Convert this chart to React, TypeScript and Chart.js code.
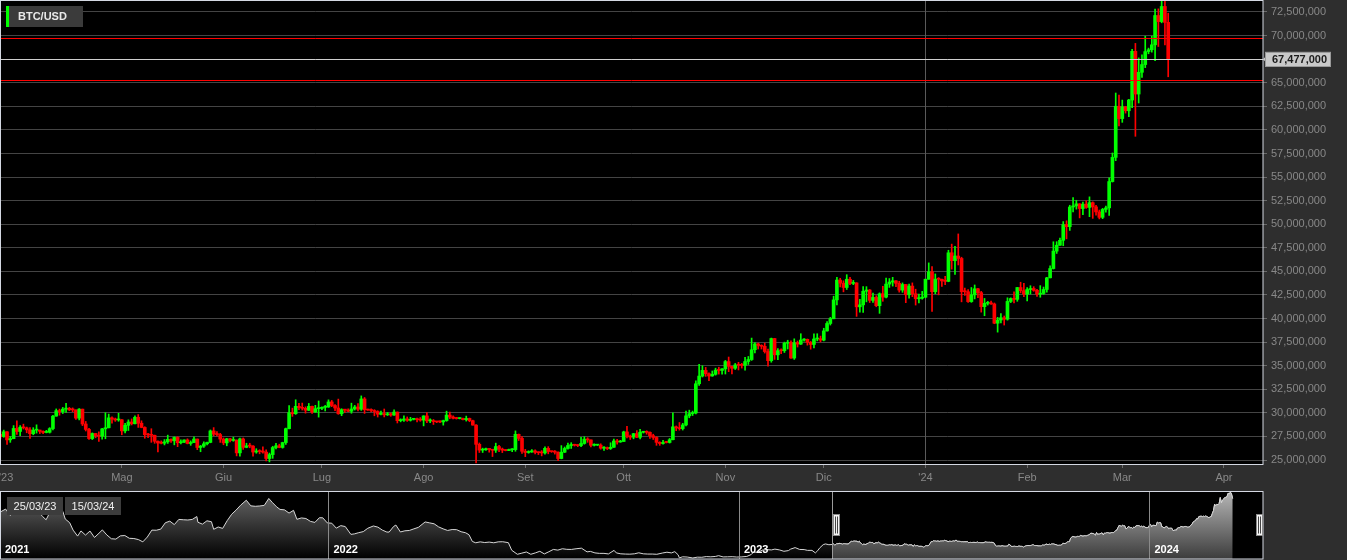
import { useEffect, useRef } from 'react';
import { Chart, registerables } from 'chart.js';

Chart.register(...registerables);

const FONT = '"Liberation Sans", Arial, Helvetica, sans-serif';
const SYMBOL = 'BTC/USD';
const START_DATE = '2023-03-25';
const PRICE_UNIT = 1000;

type OHLC = [number, number, number, number];

// Daily candles [open, high, low, close] (USD, chart shows ×1000)
const MAR_2023: OHLC[] = [
  [27716, 28025, 27302, 27494], [27494, 28175, 27412, 27994], [27994, 28004, 26650, 27139],
  [27139, 27500, 26876, 27268], [27268, 28650, 27254, 28348], [28348, 29159, 27720, 28033],
  [28033, 28640, 27583, 28478],
];
const APR_2023: OHLC[] = [
  [28478, 28805, 28288, 28411], [28411, 28497, 27889, 28199], [28199, 28448, 27296, 27790],
  [27790, 28431, 27679, 28168], [28168, 28733, 27856, 28177], [28177, 28177, 27807, 28044],
  [28044, 28100, 27796, 27925], [27925, 28150, 27880, 27947], [27947, 28433, 27860, 28333],
  [28333, 29737, 28206, 29653], [29653, 30419, 29646, 30235], [30235, 30404, 29753, 30139],
  [30139, 30580, 29931, 30399], [30399, 31000, 30040, 30485], [30485, 30581, 30238, 30318],
  [30318, 30529, 30130, 30315], [30315, 30315, 29305, 29445], [29445, 30455, 29254, 30397],
  [30397, 30399, 28648, 28822], [28822, 29089, 28079, 28245], [28245, 28369, 27181, 27276],
  [27276, 27876, 27172, 27817], [27817, 27820, 27362, 27591], [27591, 28001, 26970, 27525],
  [27525, 28371, 27206, 28307], [28307, 30020, 27255, 28423], [28423, 29873, 28400, 29473],
  [29473, 29573, 28904, 29340], [29340, 29450, 29100, 29248], [29248, 29952, 29112, 29268],
];
const MAY_2023: OHLC[] = [
  [29268, 29300, 27680, 28091], [28091, 28880, 27872, 28680], [28680, 29260, 28130, 29031],
  [29031, 29360, 28720, 28847], [28847, 29680, 28830, 29534], [29534, 29820, 28460, 28904],
  [28904, 29160, 28420, 28454], [28454, 28530, 27310, 27694], [27694, 27820, 27360, 27658],
  [27658, 28320, 26880, 27621], [27621, 27650, 26770, 26988], [26988, 27030, 25870, 26804],
  [26804, 27030, 26710, 26784], [26784, 27170, 26600, 26930], [26930, 27640, 26760, 27192],
  [27192, 27240, 26880, 27037], [27037, 27460, 26610, 27398], [27398, 27470, 26420, 26833],
  [26833, 27140, 26700, 26890], [26890, 27150, 26850, 27129], [27129, 27250, 26710, 26754],
  [26754, 27030, 26560, 26851], [26851, 27470, 26840, 27226], [27226, 27230, 26100, 26334],
  [26334, 26550, 25880, 26476], [26476, 26920, 26350, 26719], [26719, 26900, 26600, 26868],
  [26868, 28190, 26830, 28085], [28085, 28440, 27560, 27745], [27745, 28020, 27570, 27702],
  [27702, 27830, 26870, 27220],
];
const JUN_2023: OHLC[] = [
  [27220, 27340, 26620, 26819], [26819, 27300, 26510, 27249], [27249, 27310, 26930, 27075],
  [27075, 27430, 26990, 27119], [27119, 27130, 25440, 25760], [25760, 27330, 25400, 27238],
  [27238, 27340, 26130, 26345], [26345, 26780, 26300, 26508], [26508, 26780, 26300, 26480],
  [26480, 26530, 25400, 25851], [25851, 26200, 25720, 25940], [25940, 26090, 25660, 25903],
  [25903, 26400, 25740, 25842], [25842, 26070, 24900, 25162], [25162, 25740, 24800, 25575],
  [25575, 26460, 25180, 26327], [26327, 26770, 26180, 26510], [26510, 26680, 26300, 26336],
  [26336, 26890, 26260, 26851], [26851, 28390, 26660, 28327], [28327, 30770, 28300, 30027],
  [30027, 30500, 29630, 29912], [29912, 31390, 29840, 30695], [30695, 31000, 30340, 30548],
  [30548, 31040, 30300, 30480], [30480, 30640, 29970, 30272], [30272, 31000, 30240, 30689],
  [30689, 30710, 29930, 30086], [30086, 30800, 30050, 30446], [30446, 31260, 29550, 30477],
];
const JUL_2023: OHLC[] = [
  [30477, 30650, 30330, 30590], [30590, 30790, 30200, 30620], [30620, 31380, 30580, 31156],
  [31156, 31320, 30660, 30777], [30777, 30880, 30230, 30514], [30514, 31460, 29850, 29909],
  [29909, 30440, 29700, 30346], [30346, 30380, 30040, 30292], [30292, 30420, 30130, 30171],
  [30171, 31030, 29960, 30414], [30414, 30790, 30300, 30620], [30620, 30980, 30220, 30391],
  [30391, 31800, 30260, 31476], [31476, 31630, 29940, 30334], [30334, 30410, 30260, 30295],
  [30295, 30440, 30090, 30249], [30249, 30340, 29690, 30145], [30145, 30230, 29560, 29856],
  [29856, 30190, 29770, 29913], [29913, 30410, 29570, 29793], [29793, 30050, 29720, 29908],
  [29908, 29990, 29640, 29771], [29771, 30330, 29740, 30084], [30084, 30100, 28930, 29176],
  [29176, 29370, 29050, 29227], [29227, 29680, 29100, 29354], [29354, 29570, 29100, 29210],
  [29210, 29530, 29130, 29319], [29319, 29400, 29250, 29357], [29357, 29450, 29050, 29275],
  [29275, 29500, 29110, 29230],
];
const AUG_2023: OHLC[] = [
  [29230, 29700, 28620, 29675], [29675, 30040, 28970, 29151], [29151, 29380, 28960, 29178],
  [29178, 29300, 28770, 29074], [29074, 29110, 28960, 29042], [29042, 29160, 28970, 29041],
  [29041, 29230, 28700, 29180], [29180, 30180, 29110, 29765], [29765, 30090, 29380, 29561],
  [29561, 29680, 29360, 29429], [29429, 29530, 29340, 29397], [29397, 29460, 29360, 29415],
  [29415, 29450, 29260, 29283], [29283, 29660, 29130, 29408], [29408, 29450, 29060, 29170],
  [29170, 29230, 28700, 28701], [28701, 28770, 24700, 26664], [26664, 26810, 25800, 26049],
  [26049, 26260, 25800, 26096], [26096, 26270, 26010, 26189], [26189, 26220, 25830, 26124],
  [26124, 26130, 25370, 26040], [26040, 26790, 25800, 26431], [26431, 26550, 25900, 26163],
  [26163, 26270, 25790, 26049], [26049, 26100, 25970, 26008], [26008, 26170, 25980, 26089],
  [26089, 26220, 25880, 26106], [26106, 28090, 25930, 27727], [27727, 27760, 27070, 27297],
  [27297, 27490, 25700, 25931],
];
const SEP_2023: OHLC[] = [
  [25931, 26130, 25360, 25800], [25800, 25980, 25720, 25868], [25868, 26110, 25810, 25969],
  [25969, 26090, 25660, 25812], [25812, 25860, 25580, 25779], [25779, 26000, 25440, 25753],
  [25753, 26400, 25630, 26240], [26240, 26420, 25660, 25906], [25906, 25930, 25810, 25895],
  [25895, 26010, 25630, 25832], [25832, 25870, 24930, 25162], [25162, 26530, 25130, 25833],
  [25833, 26380, 25790, 26228], [26228, 26800, 26150, 26539], [26539, 26840, 26230, 26608],
  [26608, 26670, 26480, 26568], [26568, 26620, 26420, 26534], [26534, 27410, 26420, 26754],
  [26754, 27470, 26680, 27211], [27211, 27370, 26880, 27132], [27132, 27150, 26400, 26567],
  [26567, 26720, 26490, 26579], [26579, 26620, 26520, 26579], [26579, 26720, 26150, 26256],
  [26256, 26420, 26010, 26298], [26298, 26380, 26110, 26217], [26217, 26830, 26120, 26352],
  [26352, 27230, 26330, 27021], [27021, 27200, 26680, 26911], [26911, 27090, 26880, 26967],
];
const OCT_2023: OHLC[] = [
  [26967, 28060, 26970, 27983], [27983, 28580, 27350, 27530], [27530, 27650, 27180, 27429],
  [27429, 27830, 27250, 27799], [27799, 28120, 27370, 27415], [27415, 28250, 27250, 27946],
  [27946, 28030, 27860, 27968], [27968, 28100, 27740, 27935], [27935, 27990, 27300, 27583],
  [27583, 27740, 27180, 27391], [27391, 27470, 26560, 26873], [26873, 26940, 26560, 26756],
  [26756, 27090, 26690, 26862], [26862, 26980, 26810, 26861], [26861, 27290, 26800, 27160],
  [27160, 30000, 27120, 28519], [28519, 28610, 28110, 28415], [28415, 28980, 28170, 28329],
  [28329, 28890, 28180, 28720], [28720, 30200, 28620, 29683], [29683, 30290, 29480, 29918],
  [29918, 30190, 29720, 29993], [29993, 33400, 29900, 33087], [33087, 35150, 32900, 33901],
  [33901, 35000, 33800, 34502], [34502, 34820, 33870, 34157], [34157, 34240, 33410, 33909],
  [33909, 34440, 33880, 34090], [34090, 34740, 34000, 34538], [34538, 34840, 34110, 34502],
  [34502, 34700, 34090, 34667],
];
const NOV_2023: OHLC[] = [
  [34667, 35560, 34120, 35437], [35437, 35920, 34370, 34938], [34938, 34940, 34120, 34732],
  [34732, 35240, 34600, 35082], [35082, 35360, 34550, 35050], [35050, 35250, 34750, 35038],
  [35038, 35890, 34540, 35443], [35443, 35980, 35130, 35655], [35655, 37930, 35560, 36694],
  [36694, 37450, 36360, 37313], [37313, 37400, 36770, 37138], [37138, 37220, 36770, 37054],
  [37054, 37400, 36340, 36502], [36502, 36750, 34950, 35537], [35537, 37930, 35370, 37880],
  [37880, 37900, 35670, 36154], [36154, 36820, 35630, 36596], [36596, 36790, 36280, 36585],
  [36585, 37500, 36400, 37387], [37387, 37700, 36770, 37476], [37476, 37640, 35780, 35813],
  [35813, 37850, 35670, 37432], [37432, 37620, 36980, 37289], [37289, 38390, 37250, 37720],
  [37720, 37880, 37600, 37796], [37796, 37830, 37180, 37479], [37479, 37570, 36750, 37254],
  [37254, 38370, 36880, 37831], [37831, 38390, 37640, 37858], [37858, 38140, 37520, 37712],
];
const DEC_2023: OHLC[] = [
  [37712, 38970, 37630, 38688], [38688, 39680, 38650, 39476], [39476, 40130, 39310, 39978],
  [39978, 42370, 39970, 41980], [41980, 44370, 41450, 44080], [44080, 44270, 43350, 43746],
  [43746, 44000, 42830, 43293], [43293, 44650, 43080, 44166], [44166, 44380, 43600, 43726],
  [43726, 44040, 43590, 43779], [43779, 43800, 40230, 41243], [41243, 42050, 40680, 41450],
  [41450, 43400, 40640, 42890], [42890, 43380, 41770, 43023], [43023, 43080, 41700, 41929],
  [41929, 42700, 41720, 42240], [42240, 42420, 41250, 41364], [41364, 42720, 40550, 42623],
  [42623, 43420, 41830, 42270], [42270, 44280, 42190, 43652], [43652, 44240, 43300, 43869],
  [43869, 44370, 43440, 43997], [43997, 44020, 43390, 43740], [43740, 43950, 42800, 43016],
  [43016, 43780, 42780, 43613], [43613, 43600, 41680, 42521], [42521, 43650, 42170, 43442],
  [43442, 43780, 42320, 42627], [42627, 43110, 41430, 42099], [42099, 42600, 41650, 42156],
  [42156, 42880, 42050, 42265],
];
const JAN_2024: OHLC[] = [
  [42265, 44180, 42200, 44168], [44168, 45900, 44160, 44958], [44958, 45500, 40750, 42848],
  [42848, 44730, 42630, 44180], [44180, 44340, 42510, 44162], [44162, 44190, 43400, 43989],
  [43989, 44480, 43600, 43943], [43943, 47240, 43900, 46970], [46970, 47890, 45240, 46139],
  [46139, 47650, 44670, 46627], [46627, 48970, 45680, 46368], [46368, 46500, 41770, 42854],
  [42854, 43240, 42450, 42842], [42842, 43060, 41720, 41797], [41797, 43290, 41720, 42511],
  [42511, 43560, 42080, 43155], [43155, 43200, 42200, 42742], [42742, 42880, 40680, 41262],
  [41262, 42130, 40300, 41618], [41618, 41820, 41430, 41665], [41665, 41860, 41500, 41546],
  [41546, 41650, 39450, 39507], [39507, 40130, 38560, 39845], [39845, 40520, 39530, 40077],
  [40077, 40270, 39310, 39933], [39933, 42200, 39830, 41816], [41816, 42190, 41690, 42120],
  [42120, 42820, 41650, 42035], [42035, 43300, 41830, 43288], [43288, 43850, 42720, 42952],
  [42952, 43740, 42320, 42582],
];
const FEB_2024: OHLC[] = [
  [42582, 43290, 41880, 43075], [43075, 43480, 42600, 43185], [43185, 43380, 42890, 42992],
  [42992, 43100, 42350, 42583], [42583, 43490, 42260, 42658], [42658, 43340, 42560, 43084],
  [43084, 44370, 42790, 44318], [44318, 45580, 44340, 45301], [45301, 48140, 45250, 47147],
  [47147, 48150, 46900, 47771], [47771, 48530, 47740, 48293], [48293, 50280, 47720, 49958],
  [49958, 50360, 48450, 49742], [49742, 52010, 49340, 51826], [51826, 52820, 51310, 51938],
  [51938, 52540, 51600, 52160], [52160, 52170, 50670, 51663], [51663, 52360, 51020, 52122],
  [52122, 52490, 51680, 51779], [51779, 52900, 50800, 52284], [52284, 52370, 50620, 51839],
  [51839, 52010, 50950, 51304], [51304, 51500, 50560, 50731], [50731, 51680, 50590, 51571],
  [51571, 51930, 51290, 51733], [51733, 54910, 50920, 54522], [54522, 57550, 54470, 57085],
  [57085, 63910, 56740, 62504], [62504, 63680, 60430, 61198],
];
const MAR_2024: OHLC[] = [
  [61198, 63160, 60800, 62440], [62440, 62480, 61780, 62029], [62029, 63240, 61390, 63167],
  [63167, 68540, 62360, 68331], [68331, 69170, 59320, 63801], [63801, 67630, 62850, 66106],
  [66106, 67970, 65560, 66925], [66925, 69930, 66600, 68300], [68300, 68670, 68070, 68498],
  [68498, 69940, 68240, 69019], [69019, 72800, 67330, 72123], [72123, 72830, 68840, 71481],
  [71481, 73650, 71350, 73083], [73083, 73780, 69000, 71397], [71397, 72370, 65630, 67477],
];

const CANDLE_MONTHS: OHLC[][] = [
  MAR_2023, APR_2023, MAY_2023, JUN_2023, JUL_2023, AUG_2023, SEP_2023,
  OCT_2023, NOV_2023, DEC_2023, JAN_2024, FEB_2024, MAR_2024,
];

// Axis labels
const X_TICK_DATES = [
  '2023-05-01', '2023-06-01', '2023-07-01', '2023-08-01', '2023-09-01', '2023-10-01',
  '2023-11-01', '2023-12-01', '2024-01-01', '2024-02-01', '2024-03-01', '2024-04-01',
];
const X_TICK_LABELS = ['Mag', 'Giu', 'Lug', 'Ago', 'Set', 'Ott', 'Nov', 'Dic', "'24", 'Feb', 'Mar', 'Apr'];
const FIRST_PARTIAL_LABEL = "'23";
const YEAR_LINE_DATE = '2024-01-01';
const Y_TICKS = [
  25000000, 27500000, 30000000, 32500000, 35000000, 37500000, 40000000, 42500000,
  45000000, 47500000, 50000000, 52500000, 55000000, 57500000, 60000000, 62500000,
  65000000, 67500000, 70000000, 72500000,
];
const Y_MIN = 24580000;
const Y_MAX = 73770000;
const X_MIN = -0.14;
const X_MAX = 384.9;
const LAST_PRICE = 67477000;
const LEVEL_LINES = [69740000, 65240000];

// Navigator history (USD close) before the main range
const NAV_HISTORY: [string, number][] = [
  ['2021-03-15', 55600], ['2021-03-20', 58300], ['2021-03-24', 52800], ['2021-03-28', 55800],
  ['2021-04-01', 59000], ['2021-04-05', 58700], ['2021-04-10', 60000], ['2021-04-14', 63500],
  ['2021-04-18', 56200], ['2021-04-22', 51700], ['2021-04-25', 49000], ['2021-04-28', 54800],
  ['2021-05-03', 57200], ['2021-05-08', 58800], ['2021-05-10', 55900], ['2021-05-12', 49700],
  ['2021-05-16', 46400], ['2021-05-19', 40000], ['2021-05-23', 34800], ['2021-05-26', 39300],
  ['2021-05-30', 35700], ['2021-06-03', 39200], ['2021-06-07', 33600], ['2021-06-11', 37300],
  ['2021-06-14', 40200], ['2021-06-18', 35800], ['2021-06-22', 32500], ['2021-06-26', 32200],
  ['2021-06-30', 35000], ['2021-07-04', 35300], ['2021-07-08', 32900], ['2021-07-12', 32700],
  ['2021-07-16', 31800], ['2021-07-20', 29800], ['2021-07-24', 34000], ['2021-07-28', 40000],
  ['2021-08-01', 39900], ['2021-08-05', 40900], ['2021-08-09', 46400], ['2021-08-13', 47800],
  ['2021-08-17', 44800], ['2021-08-21', 49300], ['2021-08-25', 49000], ['2021-08-29', 48800],
  ['2021-09-02', 49300], ['2021-09-06', 51800], ['2021-09-07', 46800], ['2021-09-11', 45200],
  ['2021-09-15', 48100], ['2021-09-19', 47300], ['2021-09-21', 40700], ['2021-09-25', 42700],
  ['2021-09-29', 41500], ['2021-10-03', 48200], ['2021-10-07', 53800], ['2021-10-11', 57500],
  ['2021-10-15', 61700], ['2021-10-20', 66000], ['2021-10-24', 61100], ['2021-10-28', 60700],
  ['2021-11-01', 61000], ['2021-11-05', 61500], ['2021-11-09', 67500], ['2021-11-12', 64200],
  ['2021-11-16', 60200], ['2021-11-19', 58000], ['2021-11-23', 57600], ['2021-11-27', 54800],
  ['2021-12-01', 57200], ['2021-12-04', 49400], ['2021-12-08', 50600], ['2021-12-12', 50100],
  ['2021-12-16', 47600], ['2021-12-20', 46700], ['2021-12-24', 50800], ['2021-12-27', 50700],
  ['2021-12-31', 46300], ['2022-01-04', 46000], ['2022-01-08', 41700], ['2022-01-12', 43900],
  ['2022-01-16', 43100], ['2022-01-21', 36300], ['2022-01-24', 36700], ['2022-01-28', 37800],
  ['2022-02-01', 38700], ['2022-02-05', 41600], ['2022-02-10', 43600], ['2022-02-14', 42600],
  ['2022-02-18', 40000], ['2022-02-22', 38300], ['2022-02-24', 38300], ['2022-02-28', 43200],
  ['2022-03-02', 44400], ['2022-03-06', 38400], ['2022-03-10', 39400], ['2022-03-14', 39700],
  ['2022-03-18', 41100], ['2022-03-22', 42400], ['2022-03-28', 47100], ['2022-04-01', 46300],
  ['2022-04-05', 45500], ['2022-04-09', 42800], ['2022-04-13', 41100], ['2022-04-17', 39700],
  ['2022-04-21', 40500], ['2022-04-25', 40400], ['2022-04-29', 38600], ['2022-05-03', 37700],
  ['2022-05-06', 36000], ['2022-05-09', 30100], ['2022-05-12', 29000], ['2022-05-16', 29800],
  ['2022-05-20', 29200], ['2022-05-24', 29600], ['2022-05-28', 29000], ['2022-06-01', 29800],
  ['2022-06-05', 29900], ['2022-06-10', 29100], ['2022-06-13', 22500], ['2022-06-18', 19000],
  ['2022-06-22', 20000], ['2022-06-26', 21000], ['2022-06-30', 19000], ['2022-07-04', 20200],
  ['2022-07-08', 21600], ['2022-07-12', 19300], ['2022-07-16', 21200], ['2022-07-20', 23200],
  ['2022-07-24', 22600], ['2022-07-28', 23800], ['2022-08-01', 23300], ['2022-08-05', 23200],
  ['2022-08-10', 23900], ['2022-08-14', 24300], ['2022-08-19', 21100], ['2022-08-22', 21500],
  ['2022-08-26', 20200], ['2022-08-30', 19800], ['2022-09-03', 19800], ['2022-09-07', 19300],
  ['2022-09-12', 22400], ['2022-09-14', 20200], ['2022-09-18', 19400], ['2022-09-22', 19200],
  ['2022-09-26', 19100], ['2022-09-30', 19400], ['2022-10-04', 20300], ['2022-10-08', 19400],
  ['2022-10-12', 19200], ['2022-10-16', 19200], ['2022-10-20', 19000], ['2022-10-25', 20100],
  ['2022-10-29', 20800], ['2022-11-02', 20200], ['2022-11-05', 21300], ['2022-11-08', 18500],
  ['2022-11-09', 15900], ['2022-11-12', 16800], ['2022-11-16', 16600], ['2022-11-21', 15800],
  ['2022-11-25', 16500], ['2022-11-29', 16400], ['2022-12-03', 17000], ['2022-12-07', 16800],
  ['2022-12-11', 17100], ['2022-12-14', 17800], ['2022-12-18', 16700], ['2022-12-22', 16800],
  ['2022-12-26', 16900], ['2022-12-30', 16600], ['2023-01-03', 16700], ['2023-01-08', 17100],
  ['2023-01-12', 18800], ['2023-01-14', 20900], ['2023-01-18', 20800], ['2023-01-22', 22700],
  ['2023-01-26', 23000], ['2023-01-30', 22800], ['2023-02-02', 23500], ['2023-02-06', 22800],
  ['2023-02-10', 21600], ['2023-02-14', 22200], ['2023-02-16', 23500], ['2023-02-20', 24800],
  ['2023-02-24', 23200], ['2023-02-28', 23100], ['2023-03-03', 22400], ['2023-03-07', 22400],
  ['2023-03-10', 20200], ['2023-03-12', 22100], ['2023-03-14', 24700], ['2023-03-17', 27400],
  ['2023-03-19', 28000], ['2023-03-22', 27300],
];
const NAV_YEARS = ['2021', '2022', '2023', '2024'];
const NAV_RANGE_START = '2021-03-15';
const NAV_RANGE_END = '2024-04-11';
const NAV_MIN = 14900;
const NAV_MAX = 74000;

// ---------- helpers ----------
const dayNum = (s: string) => {
  const [y, m, d] = s.split('-').map(Number);
  return Date.UTC(y, m - 1, d) / 86400000;
};
const fmtDate = (day: number) => {
  const dt = new Date(day * 86400000);
  const p = (n: number) => String(n).padStart(2, '0');
  return `${p(dt.getUTCDate())}/${p(dt.getUTCMonth() + 1)}/${String(dt.getUTCFullYear()).slice(2)}`;
};
const fmtNum = (v: number) => Math.round(v).toLocaleString('en-US');

const CANDLES: OHLC[] = CANDLE_MONTHS.flat();
const START_DAY = dayNum(START_DATE);
const idxOf = (s: string) => dayNum(s) - START_DAY;

const BULL = '#00ff00';
const BEAR = '#ff0000';
const BG = '#2e2e2e';
const GRID = '#444444';
const LABEL = '#888888';
const BORDER = '#d4d8e2';

const mainDecor = {
  id: 'mainDecor',
  beforeDraw(chart: any) {
    const { ctx, chartArea: a } = chart;
    ctx.save();
    ctx.fillStyle = '#000';
    ctx.fillRect(a.left, a.top, a.right - a.left, a.bottom - a.top);
    ctx.restore();
  },
  beforeDatasetsDraw(chart: any) {
    const { ctx, chartArea: a, scales } = chart;
    const x = Math.round(scales.x.getPixelForValue(idxOf(YEAR_LINE_DATE))) + 0.5;
    ctx.save();
    ctx.strokeStyle = '#5a5a5a';
    ctx.lineWidth = 1;
    ctx.beginPath();
    ctx.moveTo(x, a.top);
    ctx.lineTo(x, a.bottom);
    ctx.stroke();
    ctx.restore();
  },
  afterDatasetsDraw(chart: any) {
    const { ctx, chartArea: a, scales } = chart;
    ctx.save();
    ctx.lineWidth = 1;
    ctx.strokeStyle = '#ff0000';
    LEVEL_LINES.forEach((v) => {
      const y = Math.round(scales.y.getPixelForValue(v)) + 0.5;
      ctx.beginPath();
      ctx.moveTo(a.left, y);
      ctx.lineTo(a.right, y);
      ctx.stroke();
    });
    const py = Math.round(scales.y.getPixelForValue(LAST_PRICE)) + 0.5;
    ctx.strokeStyle = '#cfcfcf';
    ctx.beginPath();
    ctx.moveTo(a.left, py);
    ctx.lineTo(a.right, py);
    ctx.stroke();
    ctx.restore();
  },
  afterDraw(chart: any) {
    const { ctx, chartArea: a, scales } = chart;
    ctx.save();
    // plot border
    ctx.strokeStyle = BORDER;
    ctx.lineWidth = 1;
    ctx.strokeRect(a.left + 0.5, a.top + 0.5, a.right - a.left - 0.5, a.bottom - a.top);
    // legend
    ctx.fillStyle = '#3b3b3b';
    ctx.fillRect(6, 6, 77, 21);
    ctx.fillStyle = BULL;
    ctx.fillRect(6, 6, 3, 21);
    ctx.fillStyle = '#e8e8e8';
    ctx.font = `bold 11px ${FONT}`;
    ctx.textAlign = 'left';
    ctx.textBaseline = 'middle';
    ctx.fillText(SYMBOL, 18, 17);
    // last price label
    const py = scales.y.getPixelForValue(LAST_PRICE);
    ctx.fillStyle = '#c9c9c9';
    ctx.beginPath();
    ctx.moveTo(a.right, py);
    ctx.lineTo(a.right + 3, py - 3);
    ctx.lineTo(a.right + 3, py + 3);
    ctx.closePath();
    ctx.fill();
    ctx.fillRect(a.right + 2, py - 7.5, 66, 15);
    ctx.strokeStyle = '#9a9a9a';
    ctx.strokeRect(a.right + 2.5, Math.round(py - 7.5) + 0.5, 65, 14);
    ctx.fillStyle = '#1c1c1c';
    ctx.fillText(fmtNum(LAST_PRICE), a.right + 9, py + 0.5);
    // partially visible first x label
    ctx.fillStyle = LABEL;
    ctx.font = `11px ${FONT}`;
    ctx.fillText(FIRST_PARTIAL_LABEL, -1, a.bottom + 13.5);
    ctx.restore();
  },
};

const navDecor = {
  id: 'navDecor',
  beforeDraw(chart: any) {
    const { ctx, chartArea: a } = chart;
    ctx.save();
    ctx.fillStyle = '#000';
    ctx.fillRect(a.left, a.top, a.right - a.left, a.bottom - a.top);
    ctx.restore();
  },
  afterDatasetsDraw(chart: any) {
    const { ctx, chartArea: a, scales } = chart;
    const sx = scales.x;
    ctx.save();
    ctx.lineWidth = 1;
    // year separators
    ctx.strokeStyle = '#8a8a8a';
    NAV_YEARS.forEach((yr) => {
      const px = sx.getPixelForValue(dayNum(`${yr}-01-01`));
      if (px > a.left + 2 && px < a.right) {
        const x = Math.round(px) + 0.5;
        ctx.beginPath();
        ctx.moveTo(x, a.top);
        ctx.lineTo(x, a.bottom);
        ctx.stroke();
      }
    });
    // selection left edge
    const selX = sx.getPixelForValue(START_DAY);
    ctx.strokeStyle = '#9a9a9a';
    ctx.beginPath();
    ctx.moveTo(Math.round(selX) + 0.5, a.top);
    ctx.lineTo(Math.round(selX) + 0.5, a.bottom);
    ctx.stroke();
    // year labels
    ctx.fillStyle = '#ffffff';
    ctx.font = `bold 11px ${FONT}`;
    ctx.textAlign = 'left';
    ctx.textBaseline = 'middle';
    NAV_YEARS.forEach((yr) => {
      const px = sx.getPixelForValue(dayNum(`${yr}-01-01`));
      const lx = Math.max(px + 5, a.left + 5);
      if (lx < a.right - 20) ctx.fillText(yr, lx, a.bottom - 9);
    });
    // border
    ctx.strokeStyle = BORDER;
    ctx.strokeRect(a.left + 0.5, a.top + 0.5, a.right - a.left - 0.5, a.bottom - a.top - 0.5);
    // handles
    const midY = (a.top + a.bottom) / 2;
    const drawHandle = (x: number) => {
      const hx = Math.round(x) + 0.5;
      const hy = Math.round(midY - 11) + 0.5;
      ctx.fillStyle = '#f4f4f4';
      ctx.fillRect(hx, hy, 6, 21);
      ctx.strokeStyle = '#8c8c8c';
      ctx.strokeRect(hx, hy, 6, 21);
      ctx.strokeStyle = '#444';
      ctx.beginPath();
      ctx.moveTo(hx + 2, hy + 2);
      ctx.lineTo(hx + 2, hy + 19);
      ctx.moveTo(hx + 4, hy + 2);
      ctx.lineTo(hx + 4, hy + 19);
      ctx.stroke();
    };
    drawHandle(selX + 1);
    drawHandle(a.right - 7);
    // date boxes
    const lastDay = START_DAY + CANDLES.length - 1;
    ctx.font = `11px ${FONT}`;
    ctx.textAlign = 'center';
    [[7, fmtDate(START_DAY)], [65, fmtDate(lastDay)]].forEach(([bx, txt]) => {
      ctx.fillStyle = '#3c3c3c';
      ctx.fillRect(bx as number, a.top + 6, 56, 18);
      ctx.fillStyle = '#f0f0f0';
      ctx.fillText(txt as string, (bx as number) + 28, a.top + 15.5);
    });
    ctx.restore();
  },
};

export default function App() {
  const mainRef = useRef<HTMLCanvasElement>(null);
  const navRef = useRef<HTMLCanvasElement>(null);

  useEffect(() => {
    document.body.style.margin = '0';
    const colors = CANDLES.map((c) => (c[3] >= c[0] ? BULL : BEAR));
    const bodies = CANDLES.map((c, i) => ({ x: i, y: [c[0] * PRICE_UNIT, c[3] * PRICE_UNIT] }));
    const wicks = CANDLES.map((c, i) => ({
      x: i,
      y: [Math.min(c[2], c[0], c[3]) * PRICE_UNIT, Math.max(c[1], c[0], c[3]) * PRICE_UNIT],
    }));

    const main = new Chart(mainRef.current as HTMLCanvasElement, {
      type: 'bar',
      data: {
        datasets: [
          {
            label: 'body',
            data: bodies as any,
            backgroundColor: colors,
            barThickness: 3,
            minBarLength: 1,
            grouped: false,
            order: 0,
          } as any,
          {
            label: 'wick',
            data: wicks as any,
            backgroundColor: colors,
            barThickness: 1,
            grouped: false,
            order: 1,
          } as any,
        ],
      },
      options: {
        animation: false,
        responsive: false,
        devicePixelRatio: 1,
        events: [],
        layout: { padding: 0 },
        plugins: { legend: { display: false }, tooltip: { enabled: false } },
        scales: {
          x: {
            type: 'linear',
            min: X_MIN,
            max: X_MAX,
            offset: false,
            border: { display: false },
            grid: { display: true, drawOnChartArea: false, drawTicks: true, tickLength: 4, color: '#6a6a6a', offset: false },
            ticks: {
              autoSkip: false,
              maxRotation: 0,
              padding: 3,
              color: LABEL,
              font: { family: FONT, size: 11 },
              callback: (_v: any, i: number) => X_TICK_LABELS[i],
            },
            afterBuildTicks: (s: any) => {
              s.ticks = X_TICK_DATES.map((d) => ({ value: idxOf(d) }));
            },
            afterFit: (s: any) => {
              s.height = 24;
              s.paddingLeft = 0;
              s.paddingRight = 0;
            },
          },
          y: {
            type: 'linear',
            position: 'right',
            min: Y_MIN,
            max: Y_MAX,
            border: { display: false },
            grid: { color: GRID, tickColor: '#6a6a6a', tickLength: 4 },
            ticks: {
              padding: 4,
              color: LABEL,
              font: { family: FONT, size: 11 },
              callback: (v: any) => fmtNum(Number(v)),
            },
            afterBuildTicks: (s: any) => {
              s.ticks = Y_TICKS.map((v) => ({ value: v }));
            },
            afterFit: (s: any) => {
              s.width = 84;
              s.paddingTop = 0;
              s.paddingBottom = 0;
            },
          },
        },
      } as any,
      plugins: [mainDecor],
    });

    const navAll = [
      ...NAV_HISTORY.map(([d, v]) => ({ x: dayNum(d), y: v })),
      ...CANDLES.map((c, i) => ({ x: START_DAY + i, y: c[3] })),
    ];
    const navSel = CANDLES.map((c, i) => ({ x: START_DAY + i, y: c[3] }));

    const grad = (stops: [string, string]) => (ctx: any) => {
      const { chart } = ctx;
      const a = chart.chartArea;
      if (!a) return stops[1];
      const g = chart.ctx.createLinearGradient(0, a.top, 0, a.bottom);
      g.addColorStop(0, stops[0]);
      g.addColorStop(1, stops[1]);
      return g;
    };

    const nav = new Chart(navRef.current as HTMLCanvasElement, {
      type: 'line',
      data: {
        datasets: [
          {
            data: navSel as any,
            borderColor: '#d6d6d6',
            borderWidth: 1,
            pointRadius: 0,
            fill: 'start',
            backgroundColor: grad(['#b8b8b8', '#3c3c3c']),
            order: 0,
          } as any,
          {
            data: navAll as any,
            borderColor: '#d6d6d6',
            borderWidth: 1,
            pointRadius: 0,
            fill: 'start',
            backgroundColor: grad(['#6a6a6a', '#000000']),
            order: 1,
          } as any,
        ],
      },
      options: {
        animation: false,
        responsive: false,
        devicePixelRatio: 1,
        events: [],
        layout: { padding: { top: 3, bottom: 1, left: 0, right: 84 } },
        plugins: { legend: { display: false }, tooltip: { enabled: false } },
        scales: {
          x: { type: 'linear', display: false, min: dayNum(NAV_RANGE_START), max: dayNum(NAV_RANGE_END) },
          y: { type: 'linear', display: false, min: NAV_MIN, max: NAV_MAX },
        },
      } as any,
      plugins: [navDecor],
    });

    return () => {
      main.destroy();
      nav.destroy();
    };
  }, []);

  return (
    <div style={{ position: 'absolute', left: 0, top: 0, width: 1347, height: 560, background: BG, overflow: 'hidden' }}>
      <canvas ref={mainRef} width={1347} height={488} style={{ position: 'absolute', left: 0, top: 0 }} />
      <canvas ref={navRef} width={1347} height={72} style={{ position: 'absolute', left: 0, top: 488 }} />
    </div>
  );
}
